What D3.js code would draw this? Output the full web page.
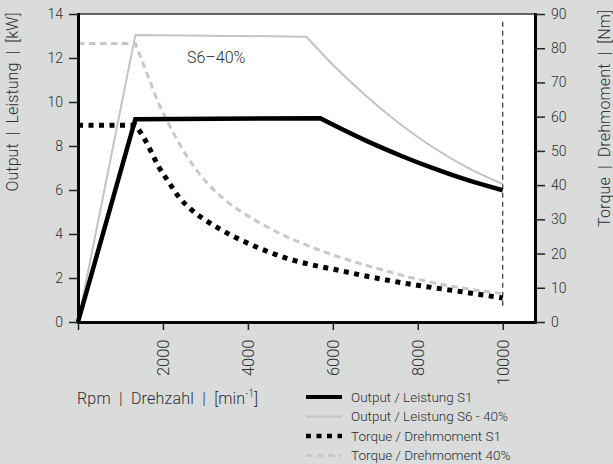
<!DOCTYPE html>
<html><head><meta charset="utf-8">
<script src="https://cdn.jsdelivr.net/npm/d3@7"></script>
<style>
html,body{margin:0;padding:0;background:#d9dcdb;}
svg{display:block;font-family:Roboto, "Open Sans", sans-serif;font-weight:300;}
</style>
</head><body>
<svg id="chart" width="613" height="464"></svg>
<script>
// ---- data ----
const rpmTicks = [0, 2000, 4000, 6000, 8000, 10000];
const kwTicks = [0, 2, 4, 6, 8, 10, 12, 14];
const nmTicks = [0, 10, 20, 30, 40, 50, 60, 70, 80, 90];

// [rpm, kW]; points before "bend" are straight segments, after it a smooth curve
const outputS1 = [[0, 0], [1350, 9.22], [5705, 9.26], [6019, 8.95], [6805, 8.22], [7589, 7.57], [8373, 6.98], [9159, 6.46], [10000, 5.99]];
const outputS1Bend = 3;
const outputS6 = [[0, 0], [1350, 13.05], [5376, 12.97], [6019, 11.66], [6805, 10.24], [7589, 8.99], [8373, 7.92], [9159, 7.03], [10000, 6.27]];
const outputS6Bend = 3;
// [rpm, Nm]
const torqueS1 = [[0, 57.5], [1350, 57.5], [1540, 54.1], [1700, 50.3], [1900, 45.4], [2130, 41.0], [2370, 36.6], [2680, 32.7], [3070, 29.2], [3390, 26.8], [4130, 22.3], [4920, 18.6], [5234, 17.5], [6176, 15.0], [7118, 12.6], [8060, 10.6], [9001, 8.9], [10000, 7.0]];
const torqueS1Bend = 2;
const torqueS6 = [[0, 81.4], [1350, 81.4], [1620, 72.7], [1900, 63.9], [2210, 56.1], [2565, 48.4], [3000, 41.2], [3470, 35.6], [4290, 28.9], [5234, 23.2], [6176, 18.9], [7118, 15.4], [8060, 12.3], [9001, 10.0], [10000, 8.3]];
const torqueS6Bend = 2;

const limitRpm = 10000;
const limitRange = [0.6, 13.65]; // kW

const legendLabels = ["Output / Leistung S1", "Output / Leistung S6 - 40%", "Torque / Drehmoment S1", "Torque / Drehmoment 40%"];
const noteLabel = "S6–40%";
const sp = "\u00a0 ";
const yTitleLeft = "Output" + sp + "|" + sp + "Leistung" + sp + "|" + sp + "[kW]";
const yTitleRight = "Torque" + sp + "|" + sp + "Drehmoment" + sp + "|" + sp + "[Nm]";
const xTitleParts = ["Rpm" + sp + "|" + sp + "Drehzahl" + sp + "|" + sp + "[min", "-1", "]"];

// ---- layout ----
const L = 78, R = 535, T = 14, B = 322;
const svg = d3.select("#chart");
const x = d3.scaleLinear().domain([0, 10760]).range([L, R]);
const yKw = d3.scaleLinear().domain([0, 14]).range([B, T]);
const yNm = d3.scaleLinear().domain([0, 90]).range([B, T]);
const txt = "#2e2e2e";

svg.append("rect").attr("width", 613).attr("height", 464).attr("fill", "#d9dcdb");
svg.append("rect").attr("x", L).attr("y", T).attr("width", R - L).attr("height", B - T).attr("fill", "#fff");
svg.append("line").attr("x1", L).attr("x2", R).attr("y1", T).attr("y2", T).attr("stroke", "#333").attr("stroke-width", 1.5);

function seriesPath(pts, bend, y) {
  const lin = d3.line().x(d => x(d[0])).y(d => y(d[1]));
  const mono = d3.line().x(d => x(d[0])).y(d => y(d[1])).curve(d3.curveMonotoneX);
  return lin(pts.slice(0, bend)) + mono(pts.slice(bend - 1)).replace(/^M/, "L");
}

const styles = [
  {stroke: "#c3c3c3", w: 2, dash: null},
  {stroke: "#000", w: 4.5, dash: null},
  {stroke: "#000", w: 5, dash: "5,5.5"},
  {stroke: "#c8c8c8", w: 3, dash: "6.5,4.5"}
];

// vertical limit line
svg.append("line")
  .attr("x1", x(limitRpm)).attr("x2", x(limitRpm))
  .attr("y1", yKw(limitRange[1])).attr("y2", yKw(limitRange[0]))
  .attr("stroke", "#333").attr("stroke-width", 1.2).attr("stroke-dasharray", "5,4");

const g = svg.append("g").attr("fill", "none");
g.append("path").attr("d", seriesPath(outputS6, outputS6Bend, yKw)).attr("stroke", styles[0].stroke).attr("stroke-width", styles[0].w);
g.append("path").attr("d", seriesPath(torqueS6, torqueS6Bend, yNm)).attr("stroke", styles[3].stroke).attr("stroke-width", styles[3].w).attr("stroke-dasharray", styles[3].dash);
g.append("path").attr("d", seriesPath(outputS1, outputS1Bend, yKw)).attr("stroke", styles[1].stroke).attr("stroke-width", styles[1].w).attr("stroke-linejoin", "miter");
g.append("path").attr("d", seriesPath(torqueS1, torqueS1Bend, yNm)).attr("stroke", styles[2].stroke).attr("stroke-width", styles[2].w).attr("stroke-dasharray", styles[2].dash);

// ---- axes ----
function styleAxis(sel, fs) {
  sel.selectAll(".tick line").attr("stroke", "#222").attr("stroke-width", 1.5);
  sel.selectAll(".tick text").attr("fill", txt).attr("font-size", fs);
  sel.select(".domain").attr("stroke", "#000").attr("stroke-width", 3);
  sel.attr("font-family", null);
}
const ax = svg.append("g").attr("transform", `translate(0,${B})`)
  .call(d3.axisBottom(x).tickValues(rpmTicks).tickSize(8).tickSizeOuter(0).tickFormat(d => d === 0 ? "" : d3.format("d")(d)));
styleAxis(ax, 16.5);
ax.selectAll(".tick text").attr("transform", "rotate(-90)").attr("text-anchor", "end")
  .attr("x", -17.5).attr("y", 0).attr("dy", "0.35em");

const al = svg.append("g").attr("transform", `translate(${L},0)`)
  .call(d3.axisLeft(yKw).tickValues(kwTicks).tickSize(9).tickPadding(6).tickSizeOuter(0));
styleAxis(al, 14);

const ar = svg.append("g").attr("transform", `translate(${R},0)`)
  .call(d3.axisRight(yNm).tickValues(nmTicks).tickSize(10).tickPadding(6).tickSizeOuter(0));
styleAxis(ar, 14);
svg.selectAll(".domain").attr("stroke-linecap", "square");

// ---- titles ----
svg.append("text").attr("transform", "translate(18.3,12.5) rotate(-90)").attr("text-anchor", "end")
  .attr("font-size", 16).attr("fill", txt).attr("textLength", 179).attr("lengthAdjust", "spacing").text(yTitleLeft);
svg.append("text").attr("transform", "translate(609.5,10) rotate(-90)").attr("text-anchor", "end")
  .attr("font-size", 16).attr("fill", txt).attr("textLength", 217).attr("lengthAdjust", "spacing").text(yTitleRight);
const xt = svg.append("text").attr("x", 77).attr("y", 403.5).attr("font-size", 16).attr("fill", txt)
  .attr("textLength", 181).attr("lengthAdjust", "spacing");
xt.append("tspan").text(xTitleParts[0]);
xt.append("tspan").attr("dy", -6.5).attr("font-size", 10).text(xTitleParts[1]);
xt.append("tspan").attr("dy", 6.5).text(xTitleParts[2]);

svg.append("text").attr("x", 187).attr("y", 63.3).attr("font-size", 16).attr("fill", txt).text(noteLabel);

// ---- legend ----
const legY = d3.scalePoint().domain(legendLabels).range([397, 455.5]);
const lg = svg.append("g");
const order = [1, 0, 2, 3];
legendLabels.forEach((lab, i) => {
  const s = styles[order[i]];
  const yy = legY(lab);
  lg.append("line").attr("x1", 306).attr("x2", 342).attr("y1", yy).attr("y2", yy)
    .attr("stroke", s.stroke).attr("stroke-width", i === 0 ? 4 : (i === 2 ? 4.5 : s.w))
    .attr("stroke-dasharray", s.dash);
  lg.append("text").attr("x", 351).attr("y", yy + 4.8).attr("font-size", 13.5).attr("fill", txt).text(lab);
});
</script>
</body></html>
